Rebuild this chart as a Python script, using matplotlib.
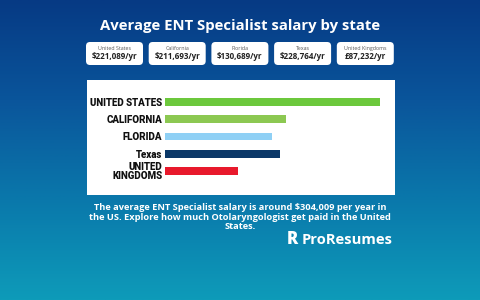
import numpy as np
import matplotlib.pyplot as plt
from matplotlib.patches import FancyBboxPatch, Rectangle
from matplotlib.colors import LinearSegmentedColormap

plt.rcParams['font.family'] = ['Open Sans', 'DejaVu Sans']

# data
card_places = ['United States', 'California', 'Florida', 'Texas', 'United Kingdoms']
card_salaries = ['$221,089/yr', '$211,693/yr', '$130,689/yr', '$228,764/yr', '£87,232/yr']
bar_labels = ['UNITED STATES', 'CALIFORNIA', 'FLORIDA', 'Texas', 'UNITED\nKINGDOMS']
bar_lengths = [215, 121, 107, 115, 73]   # as drawn, relative units
bar_colors = ['#6cc83c', '#8cc852', '#8fd0f5', '#0b3868', '#e8192c']

fig = plt.figure(figsize=(4.8, 3.0), dpi=100)

# background + decorations, in pixel coords
bg = fig.add_axes([0, 0, 1, 1])
bg.set_xlim(0, 480)
bg.set_ylim(300, 0)
bg.axis('off')
cmap = LinearSegmentedColormap.from_list('bg', ['#063a84', '#0a559b', '#0a78ab', '#0e9bb9'])
grad = np.linspace(0, 1, 256).reshape(-1, 1)
bg.imshow(grad, cmap=cmap, extent=[0, 480, 300, 0], aspect='auto', zorder=0)

bg.text(240, 26, 'Average ENT Specialist salary by state', ha='center', va='center',
        color='white', fontsize=10.7, fontweight='bold')

card_w, card_h = 57, 23
for i, (place, sal) in enumerate(zip(card_places, card_salaries)):
    x0 = 86 + i * 62.7
    bg.add_patch(FancyBboxPatch((x0, 42), card_w, card_h,
                                boxstyle='round,pad=0,rounding_size=4',
                                fc='white', ec='none', zorder=2))
    bg.text(x0 + card_w / 2, 48.5, place, ha='center', va='center',
            fontsize=3.8, color='#555555', zorder=3)
    bg.text(x0 + card_w / 2, 56.5, sal, ha='center', va='center',
            fontsize=5.8, fontweight='bold', color='#222222', zorder=3)

bg.add_patch(Rectangle((87, 80), 308, 115, fc='white', ec='none', zorder=1))

bg.text(240, 217, 'The average ENT Specialist salary is around $304,009 per year in\n'
        'the US. Explore how much Otolaryngologist get paid in the United\nStates.',
        ha='center', va='center', color='white', fontsize=6.7, fontweight='bold',
        linespacing=1.08)

bg.text(287, 240, 'R', ha='left', va='center', color='white', fontsize=12,
        fontweight='heavy')
bg.text(302, 240, 'ProResumes', ha='left', va='center', color='white', fontsize=10.6,
        fontweight='bold')

# bar chart inside the white panel
ax = fig.add_axes([165 / 480, 1 - 179.6 / 300, 220 / 480, 86.2 / 300])
ypos = np.arange(len(bar_labels))
ax.barh(ypos, bar_lengths, height=0.46, color=bar_colors)
ax.set_xlim(0, 220)
ax.set_ylim(len(bar_labels) - 0.5, -0.5)
ax.set_yticks(ypos)
ax.set_yticklabels(bar_labels, fontsize=7, fontweight='black', family='Roboto',
                   color='#111111', linespacing=0.85)
ax.tick_params(axis='y', length=0, pad=2)
ax.set_xticks([])
for s in ax.spines.values():
    s.set_visible(False)
ax.patch.set_alpha(0)

fig.savefig('out.png', dpi=100)
